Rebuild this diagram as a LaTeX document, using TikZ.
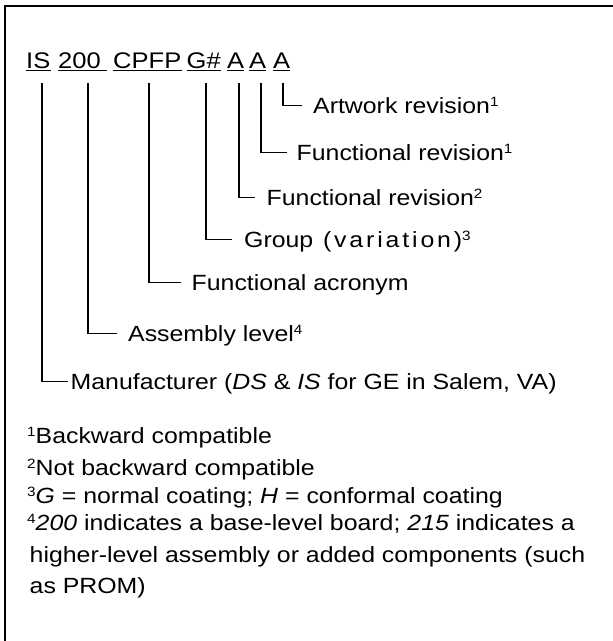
\documentclass[tikz,border=0pt]{standalone}
\usepackage{fontspec}
\setmainfont[FakeStretch=1.13]{Liberation Sans}
\newfontfamily\widefont[FakeStretch=1.13,LetterSpace=13]{Liberation Sans}
\newcommand{\supnum}[1]{\raisebox{6.6pt}{\fontsize{13.5}{13.5}\selectfont #1}}
\begin{document}
\begin{tikzpicture}[x=1pt,y=-1pt,
  frame/.style={line width=1.2pt},
  conn/.style={line width=1.5pt},
  uline/.style={line width=1.4pt},
  head/.style={inner sep=0pt,anchor=base west,font=\fontsize{22.6}{28}\selectfont},
  lab/.style={inner sep=0pt,anchor=base west,text height=15pt,text depth=0pt,font=\fontsize{22}{26}\selectfont},
  foot/.style={inner sep=0pt,anchor=base west,font=\fontsize{22}{26}\selectfont}]
\useasboundingbox (0,0) rectangle (613,641);
% frame (top and left edges visible)
\draw[frame] (613,6) -- (5,6) -- (5,641);
% header
\node[head] (nIS) at (26,68) {IS};
\node[head] (n200) at (58,68) {200};
\node[head] (nCPFP) at (113,68) {CPFP};
\node[head] (nG) at (186.5,68) {G\#};
\node[head] (nA1) at (227,68) {A};
\node[head] (nA2) at (249,68) {A};
\node[head] (nA3) at (273,68) {A};
\foreach \n in {nIS,nCPFP,nG,nA1,nA2,nA3}{
  \draw[uline] ([yshift=-2.5pt]\n.base west) -- ([yshift=-2.5pt]\n.base east);
}
\draw[uline] ([yshift=-2.5pt]n200.base west) -- ([xshift=6pt,yshift=-2.5pt]n200.base east);
% connector tops
\coordinate (tIS) at (42,83);
\coordinate (t200) at (88,83);
\coordinate (tCPFP) at (149,83);
\coordinate (tG) at (206,83);
\coordinate (tA1) at (239,83);
\coordinate (tA2) at (261,83);
\coordinate (tA3) at (283,83);
% labels
\node[lab] (lArt) at (313,113) {Artwork revision\supnum{1}};
\node[lab] (lFr1) at (296.5,160) {Functional revision\supnum{1}};
\node[lab] (lFr2) at (266.5,205) {Functional revision\supnum{2}};
\node[lab] (lGrp) at (244,247) {Group{\widefont\ (variation)}\supnum{3}};
\node[lab] (lAcr) at (191.5,290) {Functional acronym};
\node[lab] (lAsm) at (128,341) {Assembly level\supnum{4}};
\node[lab] (lMan) at (70.5,389) {Manufacturer (\textit{DS} \& \textit{IS} for GE in Salem, VA)};
% connectors
\draw[conn] (tA3) |- ([xshift=-11pt]lArt.west);
\draw[conn] (tA2) |- ([xshift=-9.5pt]lFr1.west);
\draw[conn] (tA1) |- ([xshift=-11.5pt]lFr2.west);
\draw[conn] (tG) |- ([xshift=-12pt]lGrp.west);
\draw[conn] (tCPFP) |- ([xshift=-10.5pt]lAcr.west);
\draw[conn] (t200) |- ([xshift=-11pt]lAsm.west);
\draw[conn] (tIS) |- ([xshift=-2.5pt]lMan.west);
% footnotes
\node[foot] (f1) at (27,443) {\supnum{1}Backward compatible};
\node[foot] (f2) at (27,475) {\supnum{2}Not backward compatible};
\node[foot] (f3) at (27,503) {\supnum{3}\textit{G} = normal coating; \textit{H} = conformal coating};
\node[foot] (f4) at (27,530) {\supnum{4}\textit{200} indicates a base-level board; \textit{215} indicates a};
\node[foot] (f5) at (29.5,562) {higher-level assembly or added components (such};
\node[foot] (f6) at (29.5,593) {as PROM)};
\end{tikzpicture}
\end{document}
